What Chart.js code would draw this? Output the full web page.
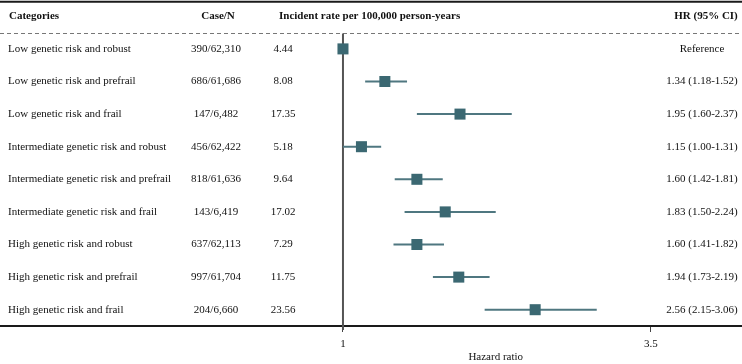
<!DOCTYPE html>
<html>
<head>
<meta charset="utf-8">
<script src="https://cdn.jsdelivr.net/npm/chart.js@4/dist/chart.umd.min.js"></script>
<style>
  body { margin: 0; background: #fff; }
  canvas { display: block; }
</style>
</head>
<body>
<canvas id="forest" width="742" height="364"></canvas>
<script>
// Rows of the forest plot (top to bottom)
const categories = [
  'Low genetic risk and robust',
  'Low genetic risk and prefrail',
  'Low genetic risk and frail',
  'Intermediate genetic risk and robust',
  'Intermediate genetic risk and prefrail',
  'Intermediate genetic risk and frail',
  'High genetic risk and robust',
  'High genetic risk and prefrail',
  'High genetic risk and frail'
];
const caseN = ['390/62,310', '686/61,686', '147/6,482', '456/62,422', '818/61,636', '143/6,419', '637/62,113', '997/61,704', '204/6,660'];
const incidentRate = ['4.44', '8.08', '17.35', '5.18', '9.64', '17.02', '7.29', '11.75', '23.56'];
const hr = [1.00, 1.34, 1.95, 1.15, 1.60, 1.83, 1.60, 1.94, 2.56];
const ciLow = [null, 1.18, 1.60, 1.00, 1.42, 1.50, 1.41, 1.73, 2.15];
const ciHigh = [null, 1.52, 2.37, 1.31, 1.81, 2.24, 1.82, 2.19, 3.06];
const hrLabels = ['Reference', '1.34 (1.18-1.52)', '1.95 (1.60-2.37)', '1.15 (1.00-1.31)', '1.60 (1.42-1.81)',
  '1.83 (1.50-2.24)', '1.60 (1.41-1.82)', '1.94 (1.73-2.19)', '2.56 (2.15-3.06)'];
const xTicks = [1, 3.5];

const FONT = '"Liberation Serif", "Times New Roman", serif';
const markColor = '#3b6872';
const lineColor = '#4f7780';

// table text, rules and CI whiskers
const forestPlugin = {
  id: 'forest',
  beforeDatasetsDraw(chart) {
    const ctx = chart.ctx;
    const x = chart.scales.x, y = chart.scales.y;
    const W = chart.width;
    ctx.save();

    // top rule
    ctx.strokeStyle = '#1a1a1a';
    ctx.lineWidth = 2;
    ctx.beginPath();
    ctx.moveTo(0, y.getPixelForValue(-1.45));
    ctx.lineTo(W, y.getPixelForValue(-1.45));
    ctx.stroke();

    // dashed rule under header
    const yd = Math.round(y.getPixelForValue(-0.5)) + 0.5;
    ctx.strokeStyle = '#777';
    ctx.lineWidth = 1;
    ctx.setLineDash([4, 3]);
    ctx.beginPath();
    ctx.moveTo(0, yd);
    ctx.lineTo(W, yd);
    ctx.stroke();
    ctx.setLineDash([]);

    // line of no effect
    ctx.strokeStyle = '#555';
    ctx.lineWidth = 2;
    ctx.beginPath();
    ctx.moveTo(x.getPixelForValue(1), yd);
    ctx.lineTo(x.getPixelForValue(1), y.bottom + 4);
    ctx.stroke();

    // CI whiskers
    ctx.strokeStyle = lineColor;
    ctx.lineWidth = 2;
    hr.forEach((v, i) => {
      if (ciLow[i] == null) return;
      const py = y.getPixelForValue(i);
      ctx.beginPath();
      ctx.moveTo(x.getPixelForValue(ciLow[i]), py);
      ctx.lineTo(x.getPixelForValue(ciHigh[i]), py);
      ctx.stroke();
    });

    // header
    ctx.fillStyle = '#111';
    ctx.textBaseline = 'middle';
    ctx.font = 'bold 11px ' + FONT;
    const yh = y.getPixelForValue(-1);
    ctx.textAlign = 'left';
    ctx.fillText('Categories', 9, yh);
    ctx.textAlign = 'center';
    ctx.fillText('Case/N', 218, yh);
    ctx.textAlign = 'left';
    ctx.fillText('Incident rate per 100,000 person-years', 279, yh);
    ctx.textAlign = 'center';
    ctx.fillText('HR (95% CI)', 706, yh);

    // rows
    ctx.font = '11px ' + FONT;
    categories.forEach((c, i) => {
      const py = y.getPixelForValue(i);
      ctx.textAlign = 'left';
      ctx.fillText(c, 8, py);
      ctx.textAlign = 'center';
      ctx.fillText(caseN[i], 216, py);
      ctx.fillText(incidentRate[i], 283, py);
      ctx.fillText(hrLabels[i], 702, py);
    });

    // axis title
    ctx.fillText('Hazard ratio', x.getPixelForValue(2.24), y.bottom + 31);
    ctx.restore();
  }
};

new Chart(document.getElementById('forest'), {
  type: 'scatter',
  data: {
    datasets: [{
      data: hr.map((v, i) => ({ x: v, y: i })),
      pointStyle: 'rect',
      pointRadius: 7.8,
      pointHoverRadius: 7.8,
      backgroundColor: markColor,
      borderWidth: 0
    }]
  },
  options: {
    responsive: false,
    animation: false,
    layout: { padding: 0, autoPadding: false },
    plugins: { legend: { display: false }, tooltip: { enabled: false } },
    scales: {
      x: {
        type: 'linear',
        min: -1.784,
        max: 4.239,
        afterBuildTicks: s => { s.ticks = xTicks.map(v => ({ value: v })); },
        afterFit: s => { s.height = 38; },
        grid: { drawOnChartArea: false, drawTicks: true, tickLength: 6, color: '#444', lineWidth: 1 },
        border: { display: true, color: '#1a1a1a', width: 2 },
        ticks: {
          padding: 6,
          color: '#111',
          font: { family: FONT, size: 11 },
          callback: v => String(v)
        }
      },
      y: {
        type: 'linear',
        display: false,
        reverse: true,
        min: -1.5,
        max: 8.5
      }
    }
  },
  plugins: [forestPlugin]
});
</script>
</body>
</html>
